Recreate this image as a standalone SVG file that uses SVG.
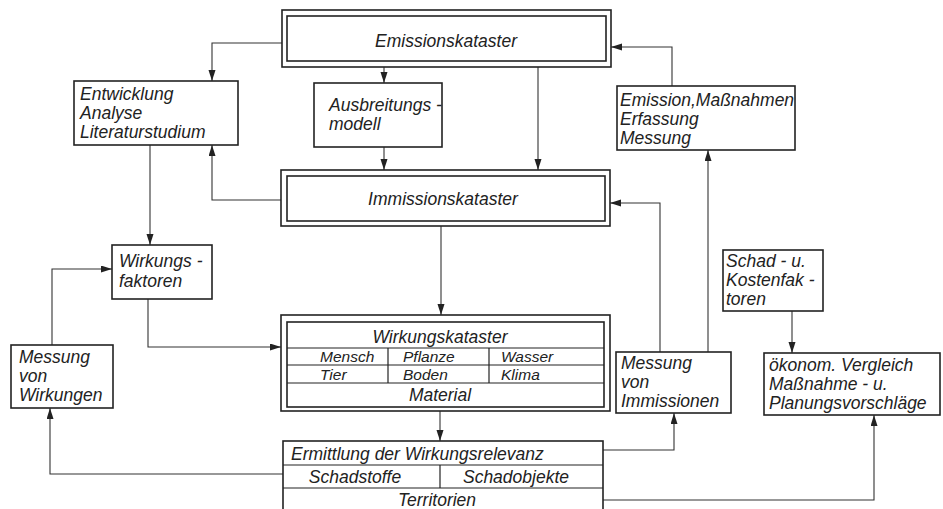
<svg xmlns="http://www.w3.org/2000/svg" width="943" height="509" viewBox="0 0 943 509">
<style>
  .bg { fill: #ffffff; }
  .box { fill: none; stroke: #222; stroke-width: 1.6; }
  .div { fill: none; stroke: #222; stroke-width: 1.2; }
  .con { fill: none; stroke: #333; stroke-width: 1.1; }
  text { font-family: "Liberation Sans", Arial, sans-serif; font-style: italic; font-size: 17.5px; fill: #222; }
  .c { text-anchor: middle; }
  .cell { font-size: 15.5px; }
</style>
<defs>
  <marker id="ah" markerUnits="userSpaceOnUse" markerWidth="12" markerHeight="8" refX="11" refY="3.5" orient="auto">
    <path d="M0,0 L11,3.5 L0,7 z" fill="#222"/>
  </marker>
</defs>
<rect class="bg" x="0" y="0" width="943" height="509"/>

<g id="connectors">
  <path class="con" d="M282,43 H212 V81" marker-end="url(#ah)"/>
  <path class="con" d="M384,67 V83" marker-end="url(#ah)"/>
  <path class="con" d="M384,147 V170" marker-end="url(#ah)"/>
  <path class="con" d="M538,67 V170" marker-end="url(#ah)"/>
  <path class="con" d="M672,86 V47 H611" marker-end="url(#ah)"/>
  <path class="con" d="M281,200 H212 V145" marker-end="url(#ah)"/>
  <path class="con" d="M150,145 V245" marker-end="url(#ah)"/>
  <path class="con" d="M660,352 V203 H610" marker-end="url(#ah)"/>
  <path class="con" d="M708,352 V150" marker-end="url(#ah)"/>
  <path class="con" d="M441,226 V315" marker-end="url(#ah)"/>
  <path class="con" d="M52,345 V269 H112" marker-end="url(#ah)"/>
  <path class="con" d="M148,299 V347 H281" marker-end="url(#ah)"/>
  <path class="con" d="M440,411 V441" marker-end="url(#ah)"/>
  <path class="con" d="M283,474 H50 V408" marker-end="url(#ah)"/>
  <path class="con" d="M603,450 H674 V413" marker-end="url(#ah)"/>
  <path class="con" d="M603,500 H874 V415" marker-end="url(#ah)"/>
  <path class="con" d="M792,311 V353" marker-end="url(#ah)"/>
</g>

<g id="emissionskataster">
  <rect class="box" x="282" y="10" width="329" height="57"/>
  <rect class="box" x="287" y="16" width="319" height="45"/>
  <text class="c" x="446" y="47">Emissionskataster</text>
</g>

<g id="entwicklung">
  <rect class="box" x="74" y="81" width="164" height="64"/>
  <text x="80" y="100">Entwicklung</text>
  <text x="80" y="119">Analyse</text>
  <text x="80" y="138">Literaturstudium</text>
</g>

<g id="ausbreitungsmodell">
  <rect class="box" x="314" y="83" width="128" height="64"/>
  <text x="329" y="111">Ausbreitungs -</text>
  <text x="329" y="130">modell</text>
</g>

<g id="emission-massnahmen">
  <rect class="box" x="617" y="86" width="178" height="64"/>
  <text x="620" y="106">Emission,Maßnahmen</text>
  <text x="620" y="125">Erfassung</text>
  <text x="620" y="144">Messung</text>
</g>

<g id="immissionskataster">
  <rect class="box" x="281" y="170" width="329" height="56"/>
  <rect class="box" x="287" y="176" width="318" height="45"/>
  <text class="c" x="443" y="205">Immissionskataster</text>
</g>

<g id="wirkungsfaktoren">
  <rect class="box" x="112" y="245" width="100" height="54"/>
  <text x="119" y="267">Wirkungs -</text>
  <text x="119" y="287">faktoren</text>
</g>

<g id="schad-kostenfaktoren">
  <rect class="box" x="723" y="250" width="100" height="61"/>
  <text x="726" y="267">Schad - u.</text>
  <text x="726" y="286">Kostenfak -</text>
  <text x="726" y="305">toren</text>
</g>

<g id="messung-wirkungen">
  <rect class="box" x="11" y="345" width="102" height="63"/>
  <text x="19" y="363">Messung</text>
  <text x="19" y="382">von</text>
  <text x="19" y="401">Wirkungen</text>
</g>

<g id="wirkungskataster">
  <rect class="box" x="281" y="315" width="329" height="96"/>
  <rect class="box" x="287" y="322" width="317" height="85"/>
  <line class="div" x1="287" y1="348" x2="604" y2="348"/>
  <line class="div" x1="287" y1="365" x2="604" y2="365"/>
  <line class="div" x1="287" y1="383" x2="604" y2="383"/>
  <line class="div" x1="388" y1="348" x2="388" y2="383"/>
  <line class="div" x1="489" y1="348" x2="489" y2="383"/>
  <text class="c" x="440" y="343">Wirkungskataster</text>
  <text class="cell" x="320" y="362">Mensch</text>
  <text class="cell" x="403" y="362">Pflanze</text>
  <text class="cell" x="501" y="362">Wasser</text>
  <text class="cell" x="320" y="380">Tier</text>
  <text class="cell" x="403" y="380">Boden</text>
  <text class="cell" x="501" y="380">Klima</text>
  <text class="c" x="440" y="401">Material</text>
</g>

<g id="messung-immissionen">
  <rect class="box" x="616" y="352" width="115" height="61"/>
  <text x="621" y="369">Messung</text>
  <text x="621" y="388">von</text>
  <text x="621" y="407">Immissionen</text>
</g>

<g id="oekonom-vergleich">
  <rect class="box" x="764" y="353" width="176" height="62"/>
  <text x="769" y="371">ökonom. Vergleich</text>
  <text x="769" y="390">Maßnahme - u.</text>
  <text x="769" y="409">Planungsvorschläge</text>
</g>

<g id="ermittlung">
  <rect class="box" x="283" y="441" width="320" height="75"/>
  <line class="div" x1="283" y1="465" x2="603" y2="465"/>
  <line class="div" x1="283" y1="488" x2="603" y2="488"/>
  <line class="div" x1="440" y1="465" x2="440" y2="488"/>
  <text x="291" y="460">Ermittlung der Wirkungsrelevanz</text>
  <text class="c" x="355" y="483">Schadstoffe</text>
  <text class="c" x="516" y="483">Schadobjekte</text>
  <text class="c" x="437" y="506">Territorien</text>
</g>
</svg>
